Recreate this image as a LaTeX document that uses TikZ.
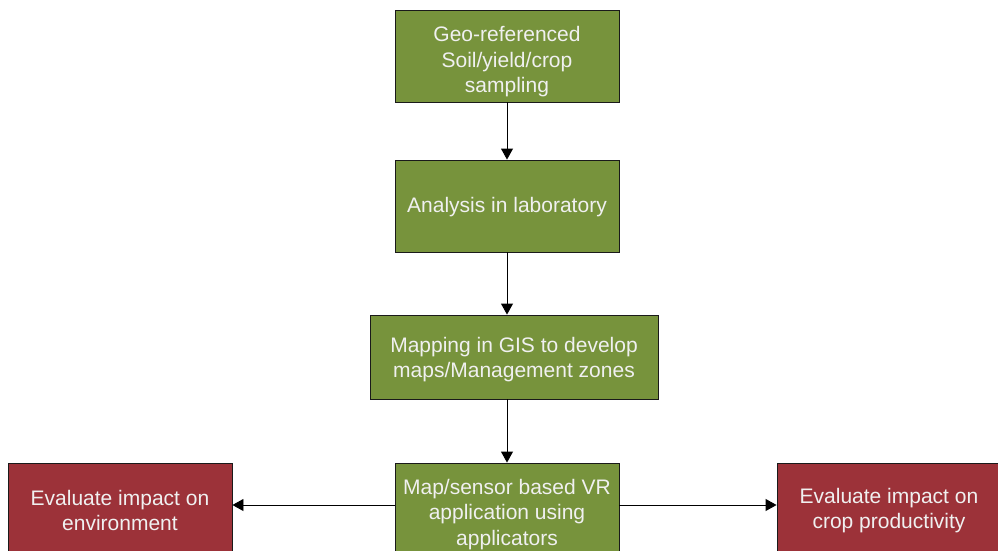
\documentclass[tikz,border=0pt]{standalone}
\usepackage{fontspec}
\setmainfont{Liberation Sans}
\usetikzlibrary{arrows.meta}
\definecolor{boxgreen}{HTML}{77933C}
\definecolor{boxred}{HTML}{9C3239}
\definecolor{boxline}{HTML}{1A1A1A}
\newcommand{\topstrut}[1]{\rule{0pt}{#1pt}}
\begin{document}
\begin{tikzpicture}[x=1pt,y=-1pt,
  base/.style={draw=boxline, line width=0.9pt, text=white!94!black, align=center,
    font=\fontsize{21}{25.5}\selectfont, inner sep=0pt, minimum height=92pt, minimum width=224pt},
  gbox/.style={base, fill=boxgreen},
  rbox/.style={base, fill=boxred},
  arr/.style={draw=black, line width=0.9pt, -{Triangle[width=12pt,length=11pt]}}]
\useasboundingbox (0,0) rectangle (998,551);
\clip (0,0) rectangle (998,551);
\node[gbox] (b1) at (507,56) {\topstrut{27}Geo-referenced\\Soil/yield/crop\\sampling};
\node[gbox] (b2) at (507,206) {\topstrut{17.5}Analysis in laboratory};
\node[gbox, minimum width=288pt, minimum height=84pt] (b3) at (514,357) {\topstrut{20.5}Mapping in GIS to develop\\maps/Management zones};
\node[gbox] (b4) at (507,509) {\topstrut{25.5}Map/sensor based VR\\application using\\applicators};
\node[rbox] (l) at (120,509) {\topstrut{18.5}Evaluate impact on\\environment};
\node[rbox] (r) at (889,509) {\topstrut{18.5}Evaluate impact on\\crop productivity};
\draw[arr] (b1) -- (b2);
\draw[arr] (b2) -- (b3.north -| b2);
\draw[arr] (b3.south -| b4) -- (b4);
\draw[arr] ([yshift=4pt]b4.west) -- ([yshift=4pt]l.east);
\draw[arr] ([yshift=4pt]b4.east) -- ([yshift=4pt]r.west);
\end{tikzpicture}
\end{document}
